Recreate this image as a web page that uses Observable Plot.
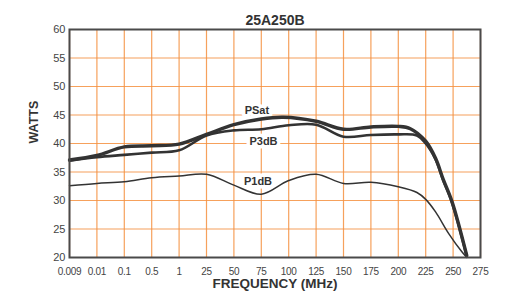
<!DOCTYPE html>
<html><head><meta charset="utf-8">
<script src="https://cdn.jsdelivr.net/npm/d3@7"></script>
<script src="https://cdn.jsdelivr.net/npm/@observablehq/plot@0.6"></script>
<style>body{margin:0;background:#fff;} #chart{width:510px;height:294px;overflow:hidden}</style>
</head><body><div id="chart"></div>
<script>
const title = "25A250B";
const xTitle = "FREQUENCY (MHz)";
const yTitle = "WATTS";
const freqTicks = [0.009, 0.01, 0.1, 0.5, 1, 25, 50, 75, 100, 125, 150, 175, 200, 225, 250, 275];
const tickLabels = ["0.009", "0.01", "0.1", "0.5", "1", "25", "50", "75", "100", "125", "150", "175", "200", "225", "250", "275"];
const yTicks = [20, 25, 30, 35, 40, 45, 50, 55, 60];

const psatFreq  = [0.009, 0.01, 0.1, 0.5, 1, 25, 50, 75, 95, 125, 150, 175, 200, 211, 225, 234, 241, 249, 262.5];
const psatWatts = [37.1, 37.9, 39.4, 39.6, 39.9, 41.6, 43.3, 44.3, 44.6, 43.9, 42.5, 42.9, 43.0, 42.6, 40.4, 37.4, 33.7, 29.8, 20.3];

const p3dbFreq  = [0.009, 0.01, 0.1, 0.5, 1, 25, 50, 75, 100, 125, 150, 175, 200, 217, 225, 234, 241, 249, 262.5];
const p3dbWatts = [37.0, 37.6, 38.0, 38.4, 38.8, 41.4, 42.3, 42.5, 43.2, 43.3, 41.2, 41.5, 41.6, 41.4, 40.0, 37.2, 33.5, 29.6, 20.2];

const p1dbFreq  = [0.009, 0.01, 0.1, 0.5, 1, 25, 50, 75, 100, 125, 150, 175, 200, 217, 225, 234, 246, 258, 262.5];
const p1dbWatts = [32.6, 33.0, 33.3, 34.0, 34.3, 34.6, 32.7, 31.1, 33.5, 34.6, 33.0, 33.2, 32.4, 31.4, 30.2, 28.0, 24.2, 21.0, 20.0];

const seriesNames = ["PSat", "P3dB", "P1dB"];
const labelFreq  = [71, 77, 72];
const labelWatts = [45.8, 40.4, 33.4];

// piecewise position of frequencies along the evenly spaced tick axis
const pos = d3.scaleLinear().domain(freqTicks).range(d3.range(freqTicks.length));

const mk = (fs, ws) => fs.map((f, i) => ({x: pos(f), y: ws[i]}));
const psat = mk(psatFreq, psatWatts);
const p3db = mk(p3dbFreq, p3dbWatts);
const p1db = mk(p1dbFreq, p1dbWatts);
const labels = seriesNames.map((s, i) => ({text: s, x: pos(labelFreq[i]), y: labelWatts[i]}));

const ink = "#333";
const chart = Plot.plot({
  width: 510, height: 294,
  marginLeft: 69, marginRight: 30, marginTop: 29, marginBottom: 37,
  style: {fontFamily: "'Liberation Sans', Arial, sans-serif", fontSize: "11px", color: "#444", background: "#fff"},
  x: {domain: [0, freqTicks.length - 1], ticks: d3.range(freqTicks.length), tickFormat: i => tickLabels[i], tickSize: 0, tickPadding: 10, label: null},
  y: {domain: [20, 60], ticks: yTicks, tickSize: 0, tickPadding: 4, label: null},
  marks: [
    Plot.ruleX(d3.range(freqTicks.length), {stroke: "#f5913f", strokeWidth: 1.2, strokeOpacity: 0.85}),
    Plot.ruleY(yTicks, {stroke: "#f5913f", strokeWidth: 1.2, strokeOpacity: 0.85}),
    Plot.text(labels, {x: "x", y: "y", text: "text", fontWeight: "bold", fontSize: 11, fill: ink, stroke: "white", strokeWidth: 7}),
    Plot.line(p1db, {x: "x", y: "y", curve: "catmull-rom", stroke: ink, strokeWidth: 1.5}),
    Plot.line(p3db, {x: "x", y: "y", curve: "catmull-rom", stroke: ink, strokeWidth: 2.6}),
    Plot.line(psat, {x: "x", y: "y", curve: "catmull-rom", stroke: ink, strokeWidth: 3.4}),
    Plot.frame({stroke: "#4a4a4a", strokeWidth: 2}),
    Plot.text([title], {frameAnchor: "top", dy: -14, fontWeight: "bold", fontSize: 14, fill: ink}),
    Plot.text([xTitle], {frameAnchor: "bottom", dy: 30, fontWeight: "bold", fontSize: 13.5, fill: ink}),
    Plot.text([yTitle], {frameAnchor: "left", dx: -36, rotate: -90, fontWeight: "bold", fontSize: 12.5, fill: ink})
  ]
});
// narrower tick labels on the frequency axis
const xs = d3.scale ? null : null;
d3.select(chart).selectAll('g[aria-label^="x-axis"] text')
  .attr("font-size", 10).attr("letter-spacing", "-0.3px");
document.getElementById("chart").appendChild(chart);
</script>
</body></html>
